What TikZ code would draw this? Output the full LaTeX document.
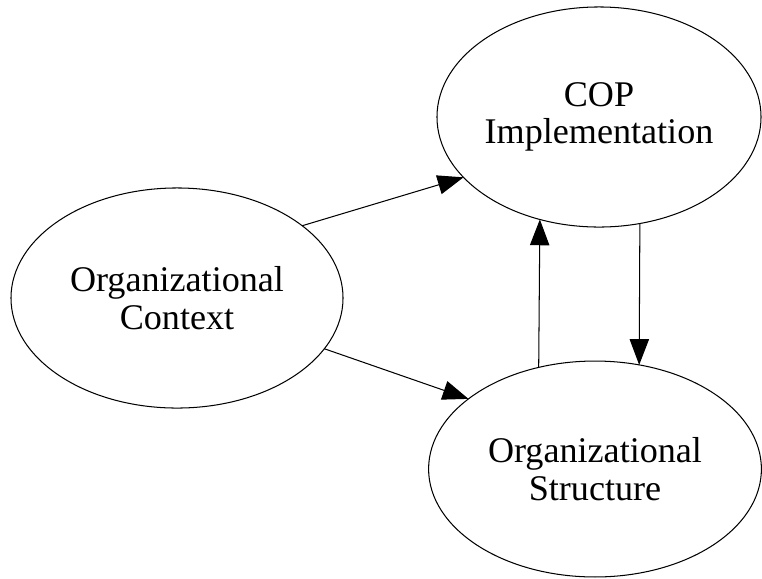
\documentclass[tikz,border=0pt]{standalone}
\usepackage{fontspec}
\setmainfont{Liberation Serif}
\usetikzlibrary{shapes.geometric, arrows.meta}

\begin{document}
\begin{tikzpicture}[
  x=0.3876pt, y=-0.3876pt,
  every node/.style={draw, ellipse, thin, inner sep=0pt, outer sep=0pt, align=center,
    font=\fontsize{14}{14.5}\selectfont},
  arr/.style={-{Triangle[length=10pt, width=7.5pt]}, thin}
]
\useasboundingbox (0,0) rectangle (762,578);
\node[minimum width=128.7pt, minimum height=85.3pt] (context) at (177,298) {Organizational\\Context};
\node[minimum width=125.6pt, minimum height=85.3pt] (cop) at (599,117) {COP\\Implementation};
\node[minimum width=129pt, minimum height=83.7pt] (structure) at (595,469) {Organizational\\Structure};

\draw[arr] (context.30) -- (cop.204);
\draw[arr] (context.-19) -- (structure.151);
\draw[arr] (structure.119) -- (cop.240);
\draw[arr] (cop.291) -- (structure.67);
\end{tikzpicture}
\end{document}
